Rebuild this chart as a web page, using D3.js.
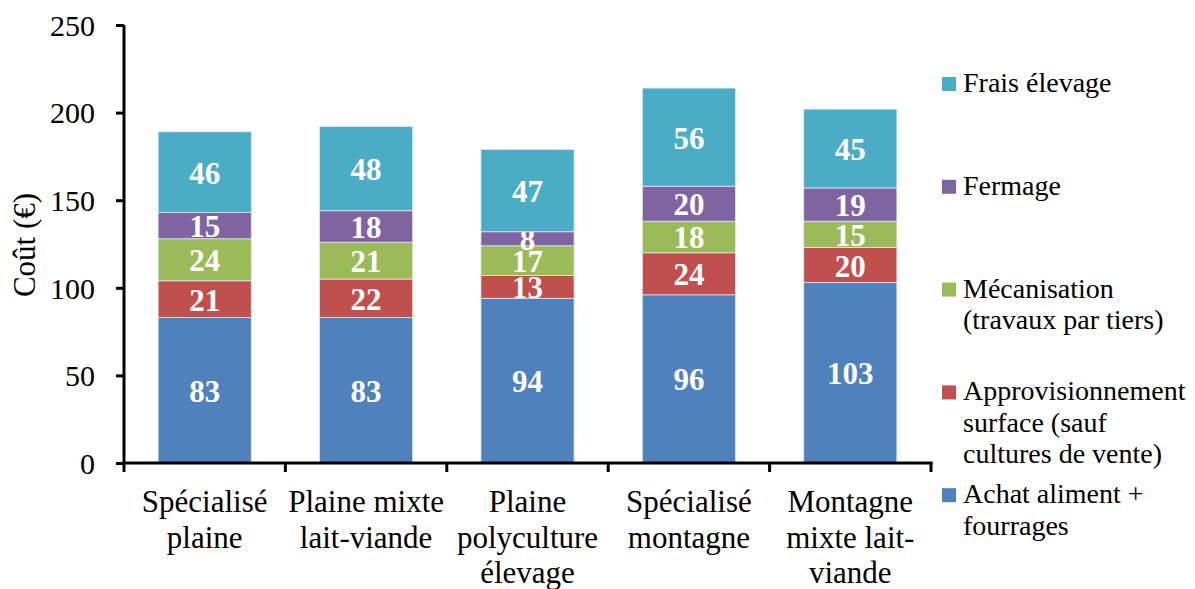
<!DOCTYPE html>
<html>
<head>
<meta charset="utf-8">
<script src="https://cdn.jsdelivr.net/npm/d3@7"></script>
<style>
  body { margin: 0; background: #fff; }
  svg text { font-family: "Liberation Serif", "Times New Roman", serif; }
</style>
</head>
<body>
<svg id="chart" width="1195" height="589"></svg>
<script>
// categories (each line of the label)
var categories = [
  ["Spécialisé", "plaine"],
  ["Plaine mixte", "lait-viande"],
  ["Plaine", "polyculture", "élevage"],
  ["Spécialisé", "montagne"],
  ["Montagne", "mixte lait-", "viande"]
];

// series, bottom to top
var seriesNames = ["Achat aliment", "Approvisionnement", "Mécanisation", "Fermage", "Frais élevage"];
var achat = [83, 83, 94, 96, 103];
var appro = [21, 22, 13, 24, 20];
var meca = [24, 21, 17, 18, 15];
var fermage = [15, 18, 8, 20, 19];
var frais = [46, 48, 47, 56, 45];
var colors = ["#4F81BD", "#C0504D", "#9BBB59", "#8064A2", "#4BACC6"];

// legend text, top to bottom
var legendLabels = [
  ["Frais élevage"],
  ["Fermage"],
  ["Mécanisation", "(travaux par tiers)"],
  ["Approvisionnement", "surface (sauf", "cultures de vente)"],
  ["Achat aliment +", "fourrages"]
];

var yTicks = [0, 50, 100, 150, 200, 250];

var svg = d3.select("#chart");
var mLeft = 124, mRight = 931, mTop = 25, mBottom = 463;

var x = d3.scaleBand()
  .domain(d3.range(categories.length))
  .range([mLeft, mRight])
  .padding(0);
var y = d3.scaleLinear().domain([0, 250]).range([mBottom, mTop]);
var barW = x.bandwidth() * 0.577;

var values = [achat, appro, meca, fermage, frais];
var table = d3.range(categories.length).map(function(i) {
  var row = { i: i };
  values.forEach(function(v, k) { row[k] = v[i]; });
  return row;
});
var stack = d3.stack().keys(d3.range(values.length))(table);

var layers = svg.selectAll("g.layer")
  .data(stack)
  .enter().append("g")
  .attr("class", "layer")
  .attr("fill", function(d, k) { return colors[k]; });

layers.selectAll("rect")
  .data(function(d) { return d; })
  .enter().append("rect")
  .attr("x", function(d) { return x(d.data.i) + (x.bandwidth() - barW) / 2; })
  .attr("width", barW)
  .attr("y", function(d) { return y(d[1]); })
  .attr("height", function(d) { return y(d[0]) - y(d[1]); })
  .attr("stroke", "#dfe6ee")
  .attr("stroke-width", 0.8);

layers.selectAll("text")
  .data(function(d) { return d; })
  .enter().append("text")
  .attr("x", function(d) { return x(d.data.i) + x.bandwidth() / 2; })
  .attr("y", function(d) { return (y(d[0]) + y(d[1])) / 2 + 11.5; })
  .attr("text-anchor", "middle")
  .attr("fill", "#fff")
  .attr("font-weight", "bold")
  .attr("font-size", 31)
  .text(function(d) { return d[1] - d[0]; });

// y axis
var yAxis = svg.append("g")
  .attr("transform", "translate(" + mLeft + ",0)")
  .call(d3.axisLeft(y).tickValues(yTicks).tickSize(8).tickPadding(21));
yAxis.attr("font-family", null);
yAxis.select(".domain").attr("stroke", "#000").attr("stroke-width", 3)
  .attr("d", "M0," + mTop + "V" + mBottom);
yAxis.selectAll(".tick line").attr("stroke", "#000").attr("stroke-width", 3);
yAxis.selectAll(".tick text")
  .attr("font-size", 30)
  .attr("fill", "#000")
  .attr("dy", "0.34em");

// x axis with boundary ticks
var xAxis = svg.append("g")
  .attr("transform", "translate(0," + mBottom + ")");
xAxis.append("line")
  .attr("x1", mLeft - 1.5).attr("x2", mRight + 1.5)
  .attr("stroke", "#000").attr("stroke-width", 3);
xAxis.selectAll("line.tick")
  .data(d3.range(categories.length + 1))
  .enter().append("line")
  .attr("class", "tick")
  .attr("x1", function(d) { return mLeft + d * x.step(); })
  .attr("x2", function(d) { return mLeft + d * x.step(); })
  .attr("y1", 0).attr("y2", 9)
  .attr("stroke", "#000").attr("stroke-width", 3);

var catLabels = xAxis.selectAll("text.cat")
  .data(categories)
  .enter().append("text")
  .attr("class", "cat")
  .attr("text-anchor", "middle")
  .attr("font-size", 31)
  .attr("fill", "#000");
catLabels.selectAll("tspan")
  .data(function(d, i) { return d.map(function(s) { return { s: s, i: i }; }); })
  .enter().append("tspan")
  .attr("x", function(d) { return x(d.i) + x.bandwidth() / 2; })
  .attr("y", function(d, j) { return 49 + j * 35.5; })
  .text(function(d) { return d.s; });

// y label
svg.append("text")
  .attr("transform", "translate(35,245) rotate(-90)")
  .attr("text-anchor", "middle")
  .attr("font-size", 31)
  .attr("fill", "#000")
  .text("Coût (€)");

// legend
var legend = svg.selectAll("g.legend")
  .data(legendLabels)
  .enter().append("g")
  .attr("class", "legend")
  .attr("transform", function(d, i) { return "translate(942," + (77 + i * 102.8) + ")"; });
legend.append("rect")
  .attr("width", 14).attr("height", 14)
  .attr("fill", function(d, i) { return colors[colors.length - 1 - i]; });
var lt = legend.append("text")
  .attr("font-size", 28)
  .attr("fill", "#000");
lt.selectAll("tspan")
  .data(function(d) { return d; })
  .enter().append("tspan")
  .attr("x", 21)
  .attr("y", function(d, j) { return 15 + j * 31.5; })
  .text(function(d) { return d; });
</script>
</body>
</html>
